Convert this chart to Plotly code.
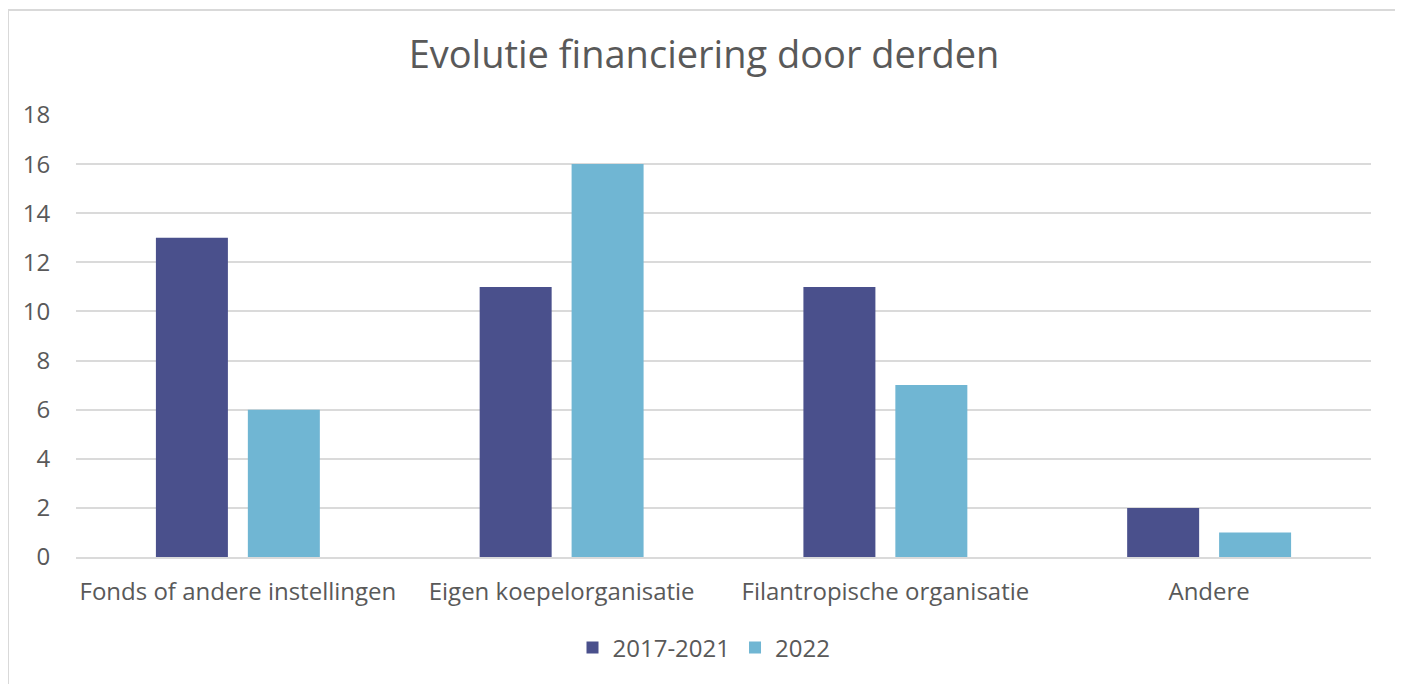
import plotly.graph_objects as go

categories = ["Fonds of andere instellingen", "Eigen koepelorganisatie", "Filantropische organisatie", "Andere"]
series_names = ["2017-2021", "2022"]
values_2017_2021 = [13, 11, 11, 2]
values_2022 = [6, 16, 7, 1]
y_ticks = [0, 2, 4, 6, 8, 10, 12, 14, 16, 18]

OFF = 8  # default page body margin
W, H = 1395, 676
L, R, T, B = 76 - OFF, W - (1371 - OFF), 115 - OFF, H - (557 - OFF)
pw, ph = W - L - R, H - T - B

def px(x):
    return (x - OFF - L) / pw

def py(y):
    return (H - B - (y - OFF)) / ph

fig = go.Figure()
fig.add_trace(go.Bar(name=series_names[0], x=categories, y=values_2017_2021, marker=dict(color="#4A508C", line=dict(width=0))))
fig.add_trace(go.Bar(name=series_names[1], x=categories, y=values_2022, marker=dict(color="#70B6D3", line=dict(width=0))))

font_family = "Open Sans, Noto Sans, sans-serif"
fig.update_layout(
    width=W, height=H,
    margin=dict(l=L, r=R, t=T, b=B, autoexpand=False),
    paper_bgcolor="white", plot_bgcolor="white",
    barmode="group", bargap=0.432, bargroupgap=0.217,
    font=dict(family=font_family, color="#595959", size=24),
    title=dict(text="Evolutie financiering door derden", x=px(704), xanchor="center",
               xref="paper",
               y=1 - (55 - OFF) / H, yanchor="middle", yref="container",
               font=dict(size=38, color="#595959", family=font_family)),
    legend=dict(orientation="h", x=px(704), xanchor="center", y=py(648), yanchor="middle",
                font=dict(size=24, color="#595959"), itemwidth=30, traceorder="normal"),
    showlegend=True,
)
fig.update_yaxes(range=[0, 18], tickvals=y_ticks, showgrid=True, gridcolor="#DADADA", gridwidth=2,
                 zeroline=False, showline=False, ticks="outside", ticklen=20, tickcolor="rgba(0,0,0,0)",
                 tickfont=dict(size=24, color="#595959"))
fig.update_xaxes(showgrid=False, showline=True, linecolor="#DADADA", linewidth=2,
                 ticks="outside", ticklen=12, tickcolor="rgba(0,0,0,0)",
                 tickfont=dict(size=24, color="#595959"))

fig.add_shape(type="rect", xref="paper", yref="paper",
              x0=px(8), x1=px(1398), y0=py(720), y1=py(10),
              line=dict(color="#D9D9D9", width=2), fillcolor="rgba(0,0,0,0)", layer="below")

fig.write_html("out.html")
